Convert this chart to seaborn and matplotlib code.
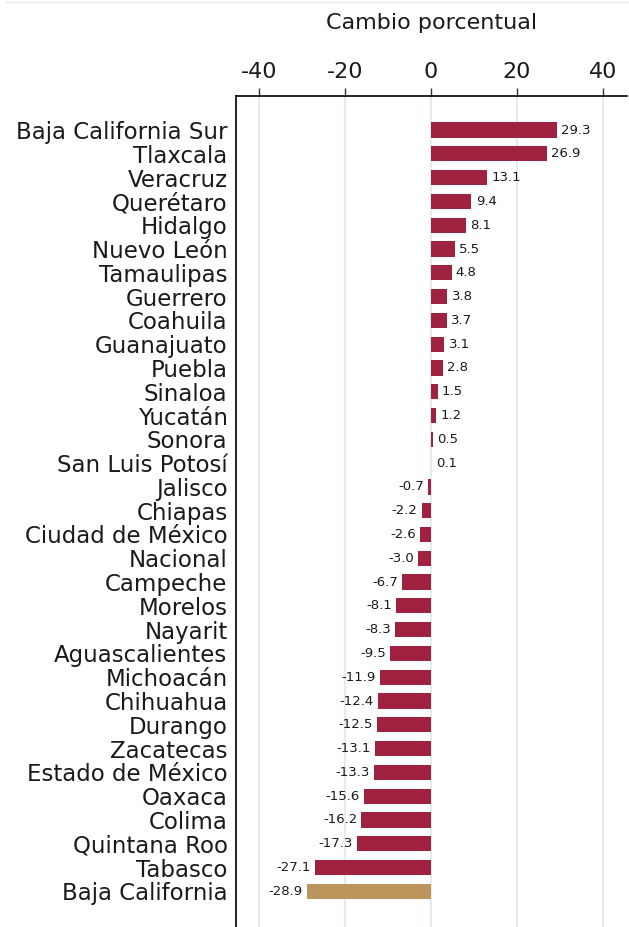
import pandas as pd
import matplotlib.pyplot as plt
import seaborn as sns
from matplotlib.lines import Line2D

estados = ["Baja California Sur", "Tlaxcala", "Veracruz", "Querétaro", "Hidalgo",
           "Nuevo León", "Tamaulipas", "Guerrero", "Coahuila", "Guanajuato",
           "Puebla", "Sinaloa", "Yucatán", "Sonora", "San Luis Potosí", "Jalisco",
           "Chiapas", "Ciudad de México", "Nacional", "Campeche", "Morelos",
           "Nayarit", "Aguascalientes", "Michoacán", "Chihuahua", "Durango",
           "Zacatecas", "Estado de México", "Oaxaca", "Colima", "Quintana Roo",
           "Tabasco", "Baja California"]
cambio = [29.3, 26.9, 13.1, 9.4, 8.1, 5.5, 4.8, 3.8, 3.7, 3.1, 2.8, 1.5, 1.2,
          0.5, 0.1, -0.7, -2.2, -2.6, -3.0, -6.7, -8.1, -8.3, -9.5, -11.9,
          -12.4, -12.5, -13.1, -13.3, -15.6, -16.2, -17.3, -27.1, -28.9]
destacado = "Baja California"
ticks = [-40, -20, 0, 20, 40]

guinda = "#9F2241"
dorado = "#BC955C"


def main():
    df = pd.DataFrame({"estado": estados, "cambio": cambio})
    colores = [dorado if e == destacado else guinda for e in estados]

    sns.set_style("white")
    plt.rcParams["font.family"] = ["DejaVu Sans"]
    plt.rcParams["axes.unicode_minus"] = False

    fig = plt.figure(figsize=(6.29, 9.27), dpi=100)
    ax = fig.add_axes([0.375, 0.0, 0.622, 0.8964])

    sns.barplot(data=df, x="cambio", y="estado", hue="estado", palette=colores,
                legend=False, width=0.64, saturation=1, linewidth=0, ax=ax, zorder=3)

    for cont in ax.containers:
        ax.bar_label(cont, fmt="%.1f", padding=3, fontsize=9.5, color="#1a1a1a")

    ax.set_xlim(-45.4, 45.6)
    ax.set_ylim(len(estados) - 0.5 + 1.0, -1.43)
    ax.set_xticks(ticks)
    ax.xaxis.tick_top()
    ax.xaxis.set_label_position("top")
    ax.set_xlabel("Cambio porcentual", fontsize=16, labelpad=24, color="#1a1a1a")
    ax.set_ylabel("")
    ax.tick_params(axis="x", labelsize=16, length=6, width=1, color="#333333",
                   pad=4, labelcolor="#1a1a1a")
    ax.tick_params(axis="y", labelsize=16.5, length=0, pad=6, labelcolor="#1a1a1a")
    ax.grid(axis="x", color="#E3EDF0", linewidth=1.5, zorder=0)

    for side in ["right", "bottom"]:
        ax.spines[side].set_visible(False)
    for side in ["top", "left"]:
        ax.spines[side].set_color("black")
        ax.spines[side].set_linewidth(1.2)

    fig.add_artist(Line2D([0.008, 1.0], [0.9975, 0.9975], color="#E6EEF0", linewidth=1))

    fig.savefig("out.png", dpi=100)
    plt.close(fig)


if __name__ == "__main__":
    main()
